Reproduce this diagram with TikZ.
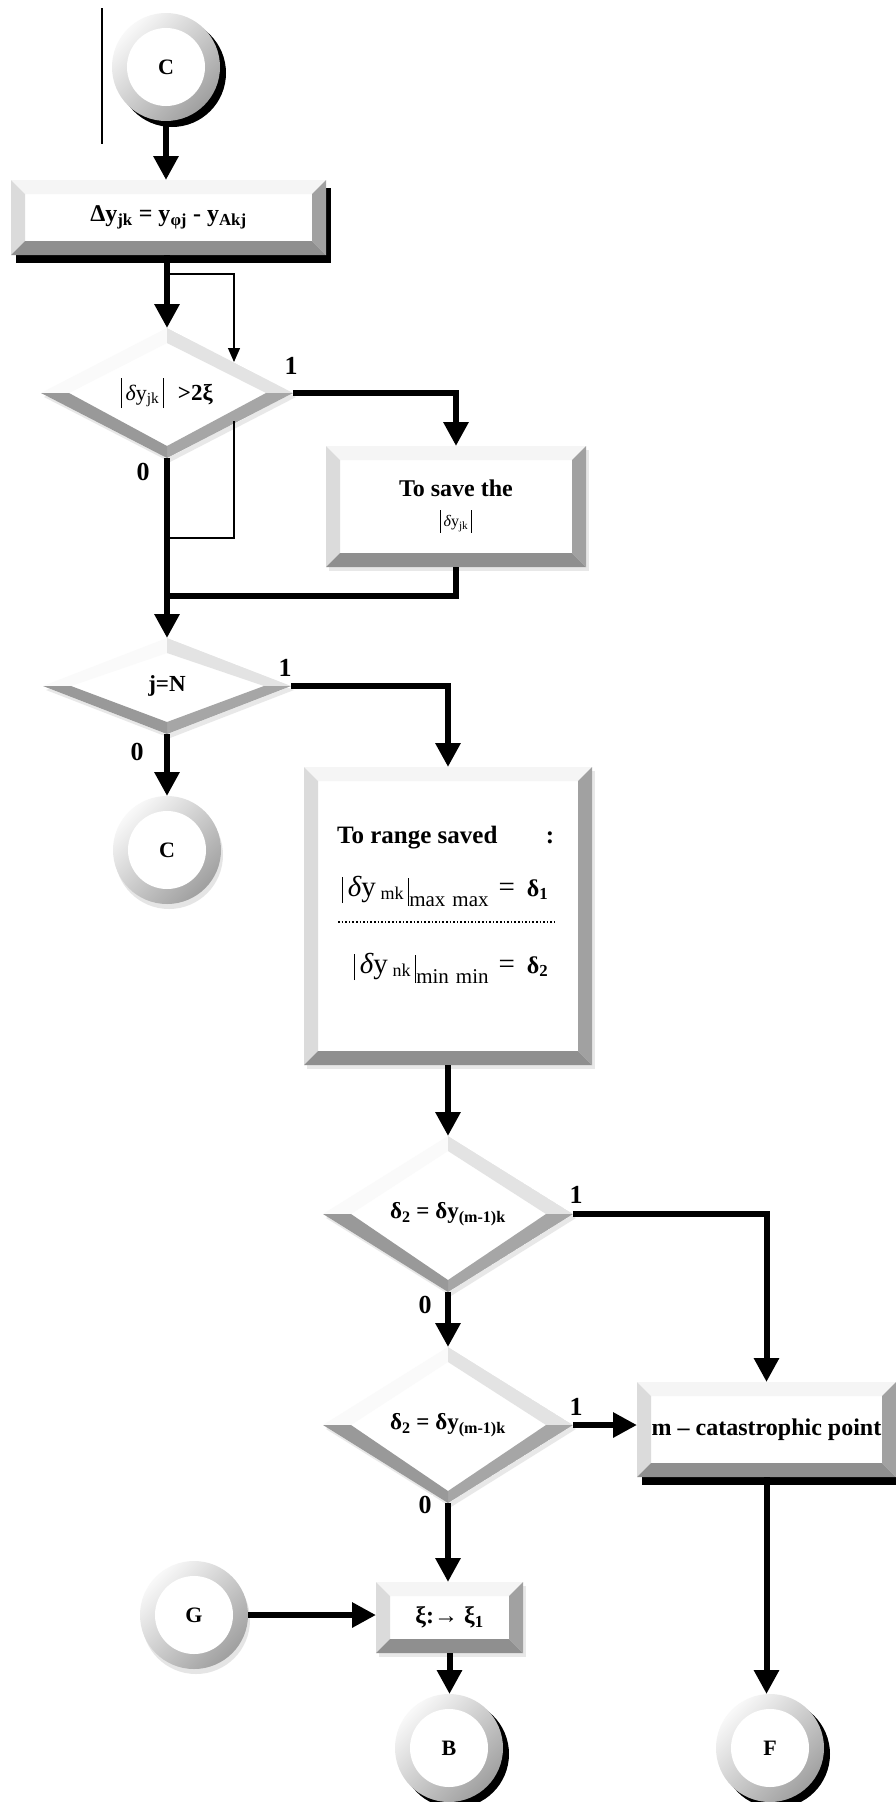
\documentclass[tikz,border=0pt]{standalone}
\usepackage{fontspec}
\setmainfont{Liberation Serif}
\usetikzlibrary{arrows.meta,shapes.geometric,shadows}
\definecolor{bevtop}{gray}{0.96}
\definecolor{bevleft}{gray}{0.86}
\definecolor{bevright}{gray}{0.63}
\definecolor{bevbottom}{gray}{0.56}
\definecolor{dtopl}{gray}{0.98}
\definecolor{dtopr}{gray}{0.89}
\definecolor{dbotr}{gray}{0.65}
\definecolor{dbotl}{gray}{0.60}
\newcommand{\modbar}[2]{\rule[-#1]{0.8pt}{#2}}
\newcommand{\bev}{14pt}
\tikzstyle{conn} = [circle, minimum size=108pt, inner sep=0pt, outer sep=0pt, font={\fontsize{22}{22}\selectfont\bfseries}, top color=gray!5, bottom color=gray!75, shading angle=45, path picture={\fill[white] (path picture bounding box.center) circle (39pt);}]
\tikzstyle{connshadow} = [drop shadow={shadow xshift=6pt, shadow yshift=-6pt, fill=black, opacity=1}]
\tikzstyle{connsoft} = [drop shadow={shadow xshift=2pt, shadow yshift=-5pt, fill=gray!40, opacity=0.5}]
\tikzstyle{proc} = [rectangle, fill=white, inner sep=0pt, outer sep=0pt, align=center, font={\fontsize{24}{29}\selectfont\bfseries}, path picture={
  \path (path picture bounding box.north west) coordinate (pnw) (path picture bounding box.north east) coordinate (pne)
        (path picture bounding box.south west) coordinate (psw) (path picture bounding box.south east) coordinate (pse);
  \fill[bevtop] (pnw) -- (pne) -- ([shift={(-\bev,-\bev)}]pne) -- ([shift={(\bev,-\bev)}]pnw) -- cycle;
  \fill[bevleft] (pnw) -- ([shift={(\bev,-\bev)}]pnw) -- ([shift={(\bev,\bev)}]psw) -- (psw) -- cycle;
  \fill[bevright] (pne) -- (pse) -- ([shift={(-\bev,\bev)}]pse) -- ([shift={(-\bev,-\bev)}]pne) -- cycle;
  \fill[bevbottom] (psw) -- ([shift={(\bev,\bev)}]psw) -- ([shift={(-\bev,\bev)}]pse) -- (pse) -- cycle;}]
\tikzstyle{procshadow} = [drop shadow={shadow xshift=5pt, shadow yshift=-8pt, fill=black, opacity=1}]
\tikzstyle{softshadow} = [drop shadow={shadow xshift=3pt, shadow yshift=-4pt, fill=gray!35, opacity=0.5}]
\tikzstyle{decision} = [diamond, fill=white, inner sep=0pt, outer sep=0pt, font={\fontsize{23}{23}\selectfont\bfseries}, path picture={
  \path (path picture bounding box.north) coordinate (dn) (path picture bounding box.east) coordinate (de)
        (path picture bounding box.south) coordinate (ds) (path picture bounding box.west) coordinate (dw);
  \path ([yshift=-15pt]dn) coordinate (dni) ([xshift=-27pt]de) coordinate (dei)
        ([yshift=12pt]ds) coordinate (dsi) ([xshift=28pt]dw) coordinate (dwi);
  \fill[dtopl] (dw) -- (dn) -- (dni) -- (dwi) -- cycle;
  \fill[dtopr] (dn) -- (de) -- (dei) -- (dni) -- cycle;
  \fill[dbotr] (de) -- (ds) -- (dsi) -- (dei) -- cycle;
  \fill[dbotl] (ds) -- (dw) -- (dwi) -- (dsi) -- cycle;}]
\tikzstyle{flow} = [line width=6pt, -{Triangle[length=24pt,width=24pt]}]
\tikzstyle{thinflow} = [line width=1.2pt, -{Triangle[length=14pt,width=12pt]}]
\tikzstyle{lbl} = [fill=white, inner sep=1pt, font={\fontsize{26}{26}\selectfont\bfseries}]
\tikzstyle{boxtext} = [anchor=west, inner sep=0pt]

\begin{document}
\begin{tikzpicture}[x=1pt,y=-1pt]
  \useasboundingbox (0,0) rectangle (896,1802);
  \fill[white] (0,0) rectangle (896,1802);
  \draw[line width=1.5pt] (102,8) -- (102,144);

  \node[conn,connshadow](c1) at (166,67){C};
  \node[proc,procshadow,minimum width=315pt,minimum height=75pt](calc) at (168.5,217.5){Δy\textsubscript{jk} = y\textsubscript{φj} - y\textsubscript{Akj}};
  \node[decision,softshadow,minimum width=252pt,minimum height=130pt](test) at (167,393){{\mdseries\fontsize{22}{22}\selectfont\modbar{8pt}{30pt}\,{\itshape δ}y\textsubscript{jk}\,\modbar{8pt}{30pt}}\hspace{14pt}>2ξ};
  \node[proc,softshadow,minimum width=260pt,minimum height=121pt](save) at (456,506.5){To save the\\[1pt]{\mdseries\fontsize{16}{16}\selectfont\modbar{6pt}{23pt}\,{\itshape δ}y\textsubscript{jk}\,\modbar{6pt}{23pt}}};
  \node[decision,softshadow,minimum width=248pt,minimum height=96pt](last) at (167,686){j=N};
  \node[conn,connsoft](c2) at (167,850){C};
  \node[proc,softshadow,minimum width=288pt,minimum height=298pt](range) at (448,916){};
  \node[boxtext,font={\fontsize{25}{25}\selectfont\bfseries}](rng) at (337,838){\makebox[217pt][l]{To range saved\hfill:}};
  \node[boxtext,font={\fontsize{29}{29}\selectfont}](dmax) at (342,891){\modbar{7pt}{26pt}\,{\itshape δ}y\,\raisebox{-3pt}{\fontsize{18}{18}\selectfont mk}\,\modbar{10pt}{28pt}\raisebox{-10pt}{\fontsize{21}{21}\selectfont max\,\,max}\hspace{10pt}=\hspace{12pt}{\fontsize{24}{24}\selectfont\bfseries δ\textsubscript{1}}};
  \draw[dotted,line width=1.6pt] (338,922) -- (555,922);
  \node[boxtext,font={\fontsize{29}{29}\selectfont}](dmin) at (354,968){\modbar{7pt}{26pt}\,{\itshape δ}y\,\raisebox{-3pt}{\fontsize{18}{18}\selectfont nk}\,\modbar{10pt}{28pt}\raisebox{-10pt}{\fontsize{21}{21}\selectfont min\,\,min}\hspace{10pt}=\hspace{12pt}{\fontsize{24}{24}\selectfont\bfseries δ\textsubscript{2}}};
  \node[decision,softshadow,minimum width=250pt,minimum height=156pt](chk1) at (448,1214){δ\textsubscript{2} = δy\textsubscript{(m-1)k}};
  \node[decision,softshadow,minimum width=250pt,minimum height=156pt](chk2) at (448,1425){δ\textsubscript{2} = δy\textsubscript{(m-1)k}};
  \node[proc,procshadow,minimum width=259pt,minimum height=95pt](cat) at (766.5,1429.5){m – catastrophic point};
  \node[proc,softshadow,minimum width=147pt,minimum height=71pt](xi) at (449.5,1617.5){ξ:→ ξ\textsubscript{1}};
  \node[conn,connsoft](g) at (194,1615){G};
  \node[conn,connshadow](b) at (449,1748){B};
  \node[conn,connshadow](f) at (770,1748){F};

  \coordinate (la) at (167,274);
  \coordinate (lb) at (234,362);
  \coordinate (lc) at (234,421);
  \coordinate (ld) at (167,538);
  \coordinate (mrg) at (167,596);
  \draw[flow](c1.south)--(c1.south |- calc.north);
  \draw[flow](test.north |- calc.south)--(test.north);
  \draw[thinflow](la)-|(lb);
  \draw[line width=1.2pt](lc)|-(ld);
  \draw[flow](test.east)-|(save.north);
  \draw[flow](test.south)--(last.north);
  \draw[line width=6pt](save.south)|-(mrg);
  \draw[flow](last.east)-|(range.north);
  \draw[flow](last.south)--(c2.north);
  \draw[flow](range.south)--(chk1.north);
  \draw[flow](chk1.east)-|(cat.north);
  \draw[flow](chk1.south)--(chk2.north);
  \draw[flow](chk2.east)--(chk2.east -| cat.west);
  \draw[flow](chk2.south)--(chk2.south |- xi.north);
  \draw[flow](g.east)--(g.east -| xi.west);
  \draw[flow](xi.south)--(xi.south |- b.north);
  \draw[flow](cat.south)--(cat.south |- f.north);

  \node[lbl](t1) at (291,366){1};
  \node[lbl](t0) at (143,472){0};
  \node[lbl](l1) at (285,668){1};
  \node[lbl](l0) at (137,752){0};
  \node[lbl](a1) at (576,1195){1};
  \node[lbl](a0) at (425,1305){0};
  \node[lbl](b1) at (576,1407){1};
  \node[lbl](b0) at (425,1505){0};
\end{tikzpicture}
\end{document}
